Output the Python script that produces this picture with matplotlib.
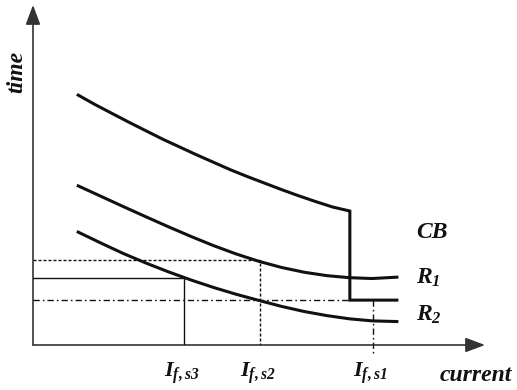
import matplotlib
matplotlib.use("Agg")
import matplotlib.pyplot as plt
from matplotlib.patches import FancyArrowPatch

plt.rcParams['font.family'] = ['Liberation Serif', 'DejaVu Serif']
plt.rcParams['mathtext.fontset'] = 'custom'
plt.rcParams['mathtext.rm'] = 'Liberation Serif:italic:bold'
plt.rcParams['mathtext.it'] = 'Liberation Serif:italic:bold'
plt.rcParams['mathtext.bf'] = 'Liberation Serif:italic:bold'

# time-current characteristics (arbitrary units)
cb_x = [10, 13.75, 17.5, 21.25, 25, 28.75, 32.5, 36.25, 40, 43.75, 47.5, 51.25,
        55, 58.75, 62.5, 66.25, 70.1, 70.1, 80.5]
cb_y = [73.5, 70.7, 68.1, 65.5, 63.0, 60.5, 58.2, 55.9, 53.7, 51.5, 49.5, 47.6,
        45.7, 43.9, 42.2, 40.6, 39.4, 13.2, 13.2]

r1_x = [10, 15, 20, 25, 30, 35, 40, 45, 50, 55, 60, 65, 70, 75, 80.5]
r1_y = [46.8, 43.75, 40.7, 37.7, 34.75, 31.9, 29.2, 26.75, 24.6, 22.8, 21.4,
        20.4, 19.8, 19.55, 19.95]

r2_x = [10, 15, 20, 25, 30, 35, 40, 45, 50, 55, 60, 65, 70, 75, 80.5]
r2_y = [33.2, 30.0, 26.9, 24.1, 21.5, 19.1, 16.9, 14.9, 13.1, 11.35, 9.85,
        8.65, 7.7, 7.1, 6.9]

# fault currents and trip times
i_fs = [75.2, 50.2, 33.4]
i_labels = ['$I_{f,s1}$', '$I_{f,s2}$', '$I_{f,s3}$']
t_r1 = 25.0
t_r2 = 19.7
t_cb = 13.2

curve_labels = ['CB', '$R_1$', '$R_2$']
curve_label_y = [33.2, 19.7, 8.8]

fig = plt.figure(figsize=(5.17, 3.90), dpi=100)
ax = fig.add_axes([33/517, 45/390, 452/517, 340/390])
ax.set_xlim(0, 100)
ax.set_ylim(0, 100)
ax.axis('off')

ink = '#111111'
ax.plot(cb_x, cb_y, color=ink, lw=2.2, solid_joinstyle='miter')
ax.plot(r1_x, r1_y, color=ink, lw=2.2)
ax.plot(r2_x, r2_y, color=ink, lw=2.2)

# guide lines
ax.plot([0, i_fs[1], i_fs[1]], [t_r1, t_r1, 0], color=ink, lw=1.0, dashes=(2.2, 1.4))
ax.plot([0, i_fs[2], i_fs[2]], [t_r2, t_r2, 0], color=ink, lw=1.0)
ax.plot([0, cb_x[-2]], [t_cb, t_cb], color=ink, lw=1.0, dashes=(4.5, 2.2, 1.2, 2.2))
ax.plot([i_fs[0], i_fs[0]], [t_cb, -2.4], color=ink, lw=1.0, dashes=(4.5, 2.2, 1.2, 2.2),
        clip_on=False)

# axes with arrows
for end in [(100, 0), (0, 100)]:
    arr = FancyArrowPatch((0, 0), end, arrowstyle='-|>,head_length=1.2,head_width=0.45',
                          mutation_scale=10, color='#333333', lw=1.2, clip_on=False,
                          shrinkA=0, shrinkB=0)
    ax.add_patch(arr)

for x, lab in zip(i_fs, i_labels):
    ax.text(x - 0.5, -8.4, lab, ha='center', va='center', fontsize=16, color=ink)
ax.text(98.0, -9.1, 'current', ha='center', va='center', fontsize=17,
        style='italic', weight='bold', color=ink)
ax.text(-3.6, 80.3, 'time', ha='center', va='center', rotation=90, fontsize=17,
        style='italic', weight='bold', color=ink)
for lab, y in zip(curve_labels, curve_label_y):
    ax.text(84.8, y, lab, ha='left', va='center', fontsize=17,
            style='italic', weight='bold', color=ink)

fig.savefig('out.png', dpi=100)
